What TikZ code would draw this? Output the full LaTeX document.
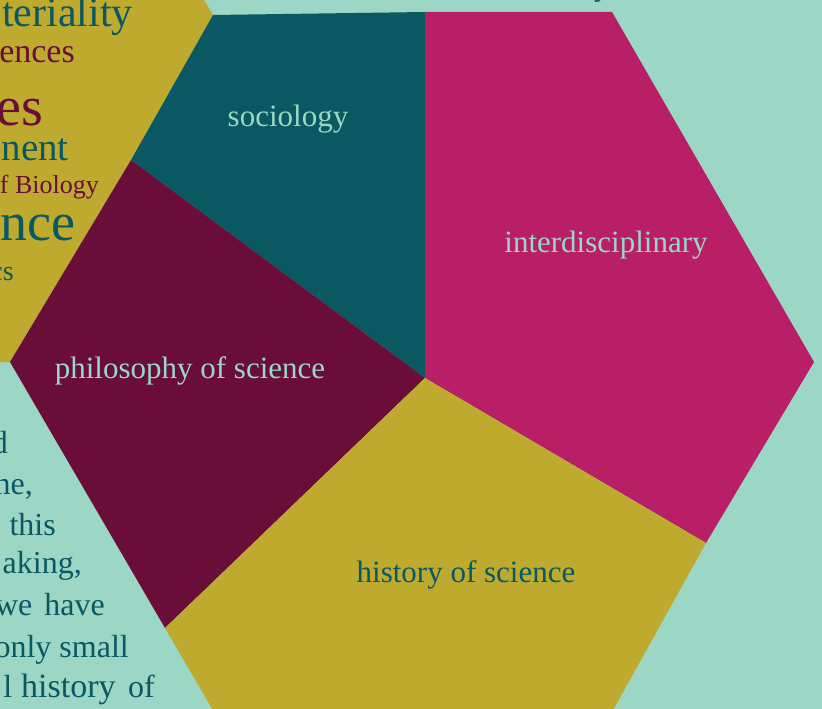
\documentclass[tikz,border=0pt]{standalone}
\usepackage{fontspec}
\setmainfont{Liberation Serif}
\definecolor{mint}{HTML}{9CD6C5}
\definecolor{tealc}{HTML}{0A5862}
\definecolor{magc}{HTML}{B81F67}
\definecolor{maroonc}{HTML}{6A0D38}
\definecolor{olivec}{HTML}{BEAA2F}
\tikzset{
  lbl/.style={font=\fontsize{31}{36}\selectfont, anchor=base, inner sep=0pt},
  cloud/.style={anchor=base east, inner sep=0pt},
  body/.style={font=\fontsize{32}{38}\selectfont, text=tealc, anchor=base east, inner sep=0pt}
}
\begin{document}
\begin{tikzpicture}[x=1pt,y=-1pt]
\fill[mint] (0,0) rectangle (822,709);
\useasboundingbox (0,0) rectangle (822,709);
% neighbour hexagon (upper left)
\fill[olivec] (213,15) -- (131,160) -- (10,362) -- (-10,362) -- (-10,-10) -- (198,-10) -- cycle;
% main hexagon tiles
\fill[tealc] (213,15) -- (425,12) -- (425,378) -- (131,160) -- cycle;
\fill[magc] (425,12) -- (612,12) -- (814,362) -- (706,543) -- (425,378) -- cycle;
\fill[maroonc] (131,160) -- (425,378) -- (165,628) -- (10,362) -- cycle;
\fill[olivec] (425,378) -- (706,543) -- (612,712) -- (214,712) -- (165,628) -- cycle;
% labels
\node[lbl, text=mint] (soc) at (288,126) {sociology};
\node[lbl, text=mint] (inter) at (606,252) {interdisciplinary};
\node[lbl, text=mint] (phil) at (190,378) {philosophy of science};
\node[lbl, text=tealc] (hist) at (466,582) {history of science};
% word cloud fragments in the neighbour hexagon
\node[cloud, text=tealc, font=\fontsize{42}{44}\selectfont] (w1) at (133,27) {teriality};
\node[cloud, text=maroonc, font=\fontsize{34}{36}\selectfont] (w2) at (75,63) {ences};
\node[cloud, text=maroonc, font=\fontsize{56}{58}\selectfont] (w3) at (43,125) {es};
\node[cloud, text=tealc, font=\fontsize{39}{40}\selectfont] (w4) at (69,160) {nent};
\node[cloud, text=maroonc, font=\fontsize{26}{28}\selectfont] (w5) at (99,193) {f Biology};
\node[cloud, text=tealc, font=\fontsize{54}{56}\selectfont] (w6) at (76,240) {nce};
\node[cloud, text=tealc, font=\fontsize{28}{30}\selectfont] (w7) at (14,280) {cs};
% running text fragments
\node[body] (b1) at (8,453) {d};
\node[body] (b2) at (33,494) {ne,};
\node[body] (b3) at (56,535) {this};
\node[body] (b4) at (82,573) {aking,};
\node[body] (b5) at (105,615) {we\hspace{4pt} have};
\node[body] (b6) at (129,657) {only small};
\node[body] (b7) at (155,697) {l\hspace{1pt} \fontsize{34}{38}\selectfont history\hspace{4pt} \fontsize{32}{38}\selectfont of};
% descender peeking in at the top
\node[lbl, font=\fontsize{32}{34}\selectfont, text=tealc] (topy) at (602,-4) {y};
\end{tikzpicture}
\end{document}
